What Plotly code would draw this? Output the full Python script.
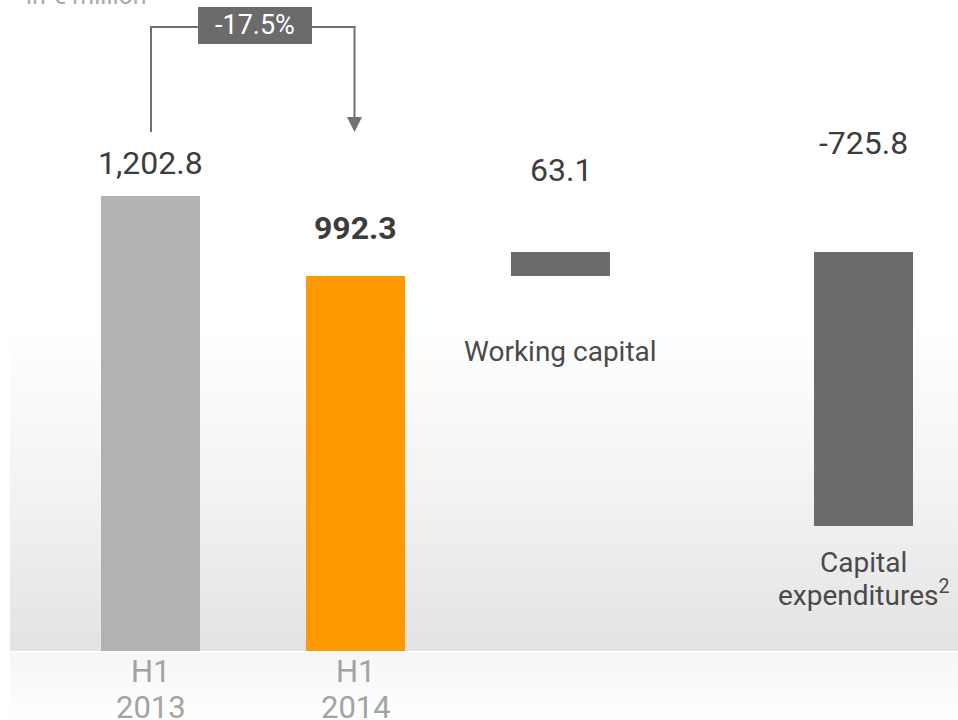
import plotly.graph_objects as go

# ---- data ----
categories = ["H1 2013", "H1 2014", "Working capital", "Capital expenditures"]
values = [1202.8, 992.3, 63.1, -725.8]
measures = ["total", "total", "relative", "relative"]
value_labels = ["1,202.8", "992.3", "63.1", "-725.8"]
tick_line1 = ["H1", "H1"]
tick_line2 = ["2013", "2014"]
change_label = "-17.5%"
unit_label = "in € million"

# ---- layout / style ----
W, H = 958, 720
bar_colors = ["#b2b2b2", "#ff9900", "#6b6b6b", "#6b6b6b"]
x_slots = [0, 1, 2, 3.48]
FONT = "Roboto"

# axis mapping (plot area = whole figure)
px_per_x = 205.0
x_center0 = 150.5
x_range = [-x_center0 / px_per_x, (W - x_center0) / px_per_x]
baseline_px = 651.0
px_per_y = 0.378
y_range = [-(H - baseline_px) / px_per_y, baseline_px / px_per_y]

def px_x(p):
    return p / W

def px_y(p):
    return 1 - p / H

# waterfall bases
bases = []
running = 0.0
for v, m in zip(values, measures):
    if m == "total":
        bases.append(0.0)
        running = v
    else:
        bases.append(running)
        running += v

fig = go.Figure()

# background gradients on the base axes (drawn underneath)
gx0 = (10 - x_center0) / px_per_x
gx1 = x_range[1] + 0.1
fig.add_trace(go.Scatter(
    x=[gx0, gx1, gx1, gx0, gx0], y=[0, 0, 860, 860, 0],
    fill="toself", mode="none", hoverinfo="skip", showlegend=False,
    fillgradient=dict(type="vertical",
                      colorscale=[[0, "#e3e3e3"], [0.5, "#f3f3f3"], [1, "#ffffff"]]),
))
fig.add_trace(go.Scatter(
    x=[gx0, gx1, gx1, gx0, gx0], y=[y_range[0] - 10, y_range[0] - 10, -3, -3, y_range[0] - 10],
    fill="toself", mode="none", hoverinfo="skip", showlegend=False,
    fillgradient=dict(type="vertical",
                      colorscale=[[0, "#ffffff"], [1, "#f6f6f6"]]),
))

# bars on overlaying axes so they sit above the gradient
fig.add_trace(go.Bar(
    x=x_slots, y=values, base=bases, width=0.483,
    xaxis="x2", yaxis="y2",
    marker=dict(color=bar_colors, line=dict(width=0)),
    hoverinfo="skip", showlegend=False,
))

annotations = []

def ann(text, x, y, size, color, xref="paper", bold=False, **kw):
    d = dict(text=f"<b>{text}</b>" if bold else text, x=x, y=y, xref=xref, yref="paper",
             showarrow=False, font=dict(family=FONT, size=size, color=color),
             xanchor="center", yanchor="middle")
    d.update(kw)
    annotations.append(d)

# value labels
label_px_y = [163, 228, 170, 143]
for i, (lab, py) in enumerate(zip(value_labels, label_px_y)):
    ann(lab, x_slots[i], px_y(py), 32, "#3c3c3c", xref="x2", bold=(i == 1))

# category labels
for i in range(2):
    ann(tick_line1[i], x_slots[i], px_y(671.5), 31, "#a3a3a3", xref="x2")
    ann(tick_line2[i], x_slots[i], px_y(707), 31, "#a3a3a3", xref="x2")
ann(categories[2], x_slots[2], px_y(351), 28, "#4a4a4a", xref="x2")
cap_words = categories[3].split(" ")
ann(cap_words[0], x_slots[3], px_y(562), 28, "#4a4a4a", xref="x2")
ann(cap_words[1] + "<sup>2</sup>", x_slots[3], px_y(593), 28, "#4a4a4a", xref="x2")

# unit label (cropped at top)
ann(unit_label, px_x(24), px_y(12), 25, "#aaaaaa", xanchor="left", yanchor="bottom")

# change box label
ann(change_label, px_x(255), px_y(25.5), 27, "#ffffff")

# bracket shapes
lc = "#707070"
shapes = []
def line(x0, y0, x1, y1):
    shapes.append(dict(type="line", xref="paper", yref="paper",
                       x0=px_x(x0), y0=px_y(y0), x1=px_x(x1), y1=px_y(y1),
                       line=dict(color=lc, width=2)))
line(151, 132, 151, 27)
line(150, 27, 198, 27)
line(312, 27, 355.5, 27)
line(354.5, 26, 354.5, 118)
shapes.append(dict(type="path", xref="paper", yref="paper",
                   path=f"M {px_x(347)} {px_y(117)} L {px_x(362)} {px_y(117)} L {px_x(354.5)} {px_y(132)} Z",
                   fillcolor=lc, line=dict(width=0)))
shapes.append(dict(type="rect", xref="paper", yref="paper",
                   x0=px_x(198), y0=px_y(7), x1=px_x(312), y1=px_y(44),
                   fillcolor="#6b6b6b", line=dict(width=0)))

fig.update_layout(
    width=W, height=H, margin=dict(l=0, r=0, t=0, b=0),
    paper_bgcolor="#ffffff", plot_bgcolor="rgba(0,0,0,0)",
    xaxis=dict(range=x_range, visible=False, fixedrange=True),
    yaxis=dict(range=y_range, visible=False, fixedrange=True),
    xaxis2=dict(range=x_range, visible=False, fixedrange=True, overlaying="x"),
    yaxis2=dict(range=y_range, visible=False, fixedrange=True, overlaying="y"),
    annotations=annotations, shapes=shapes, bargap=0,
    font=dict(family=FONT),
)

fig.write_html("out.html")
